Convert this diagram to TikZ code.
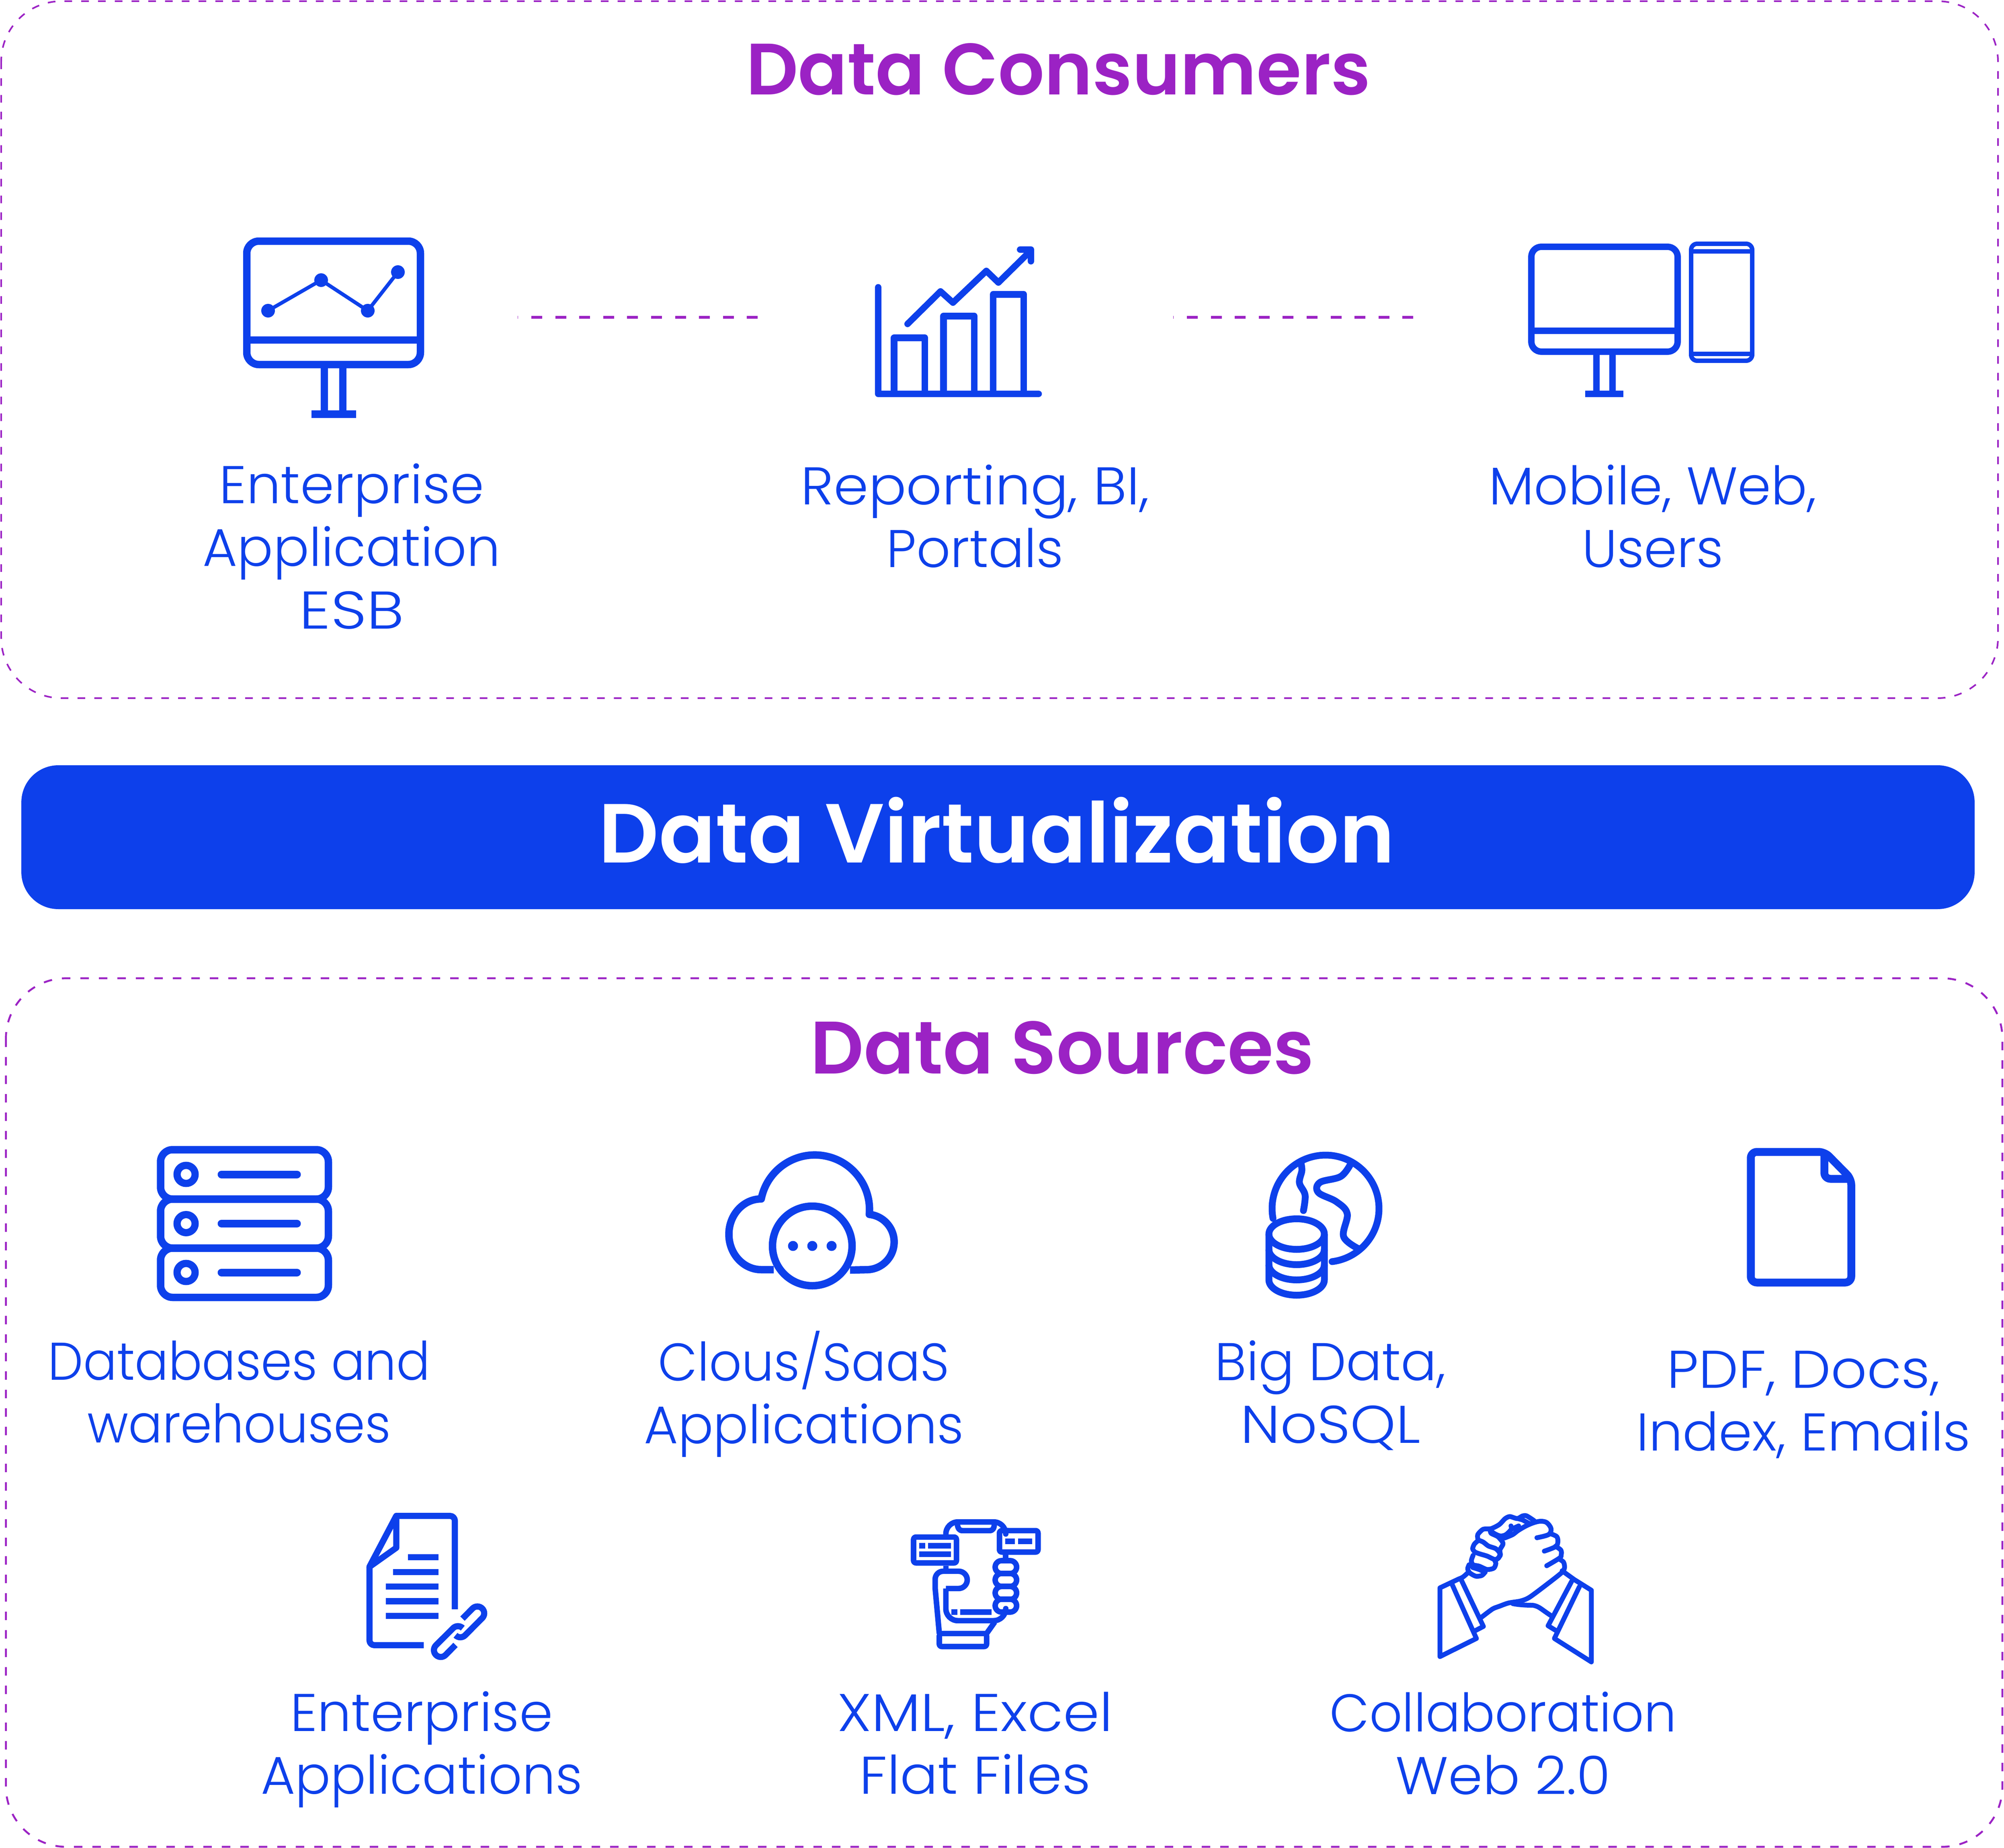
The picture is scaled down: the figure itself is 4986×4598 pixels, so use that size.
\documentclass[tikz,border=0pt]{standalone}
\usepackage{graphicx}
\usepackage{fontspec}
\setmainfont{Poppins Light}[BoldFont=Poppins SemiBold]
\definecolor{iconblue}{HTML}{0D40EB}
\definecolor{grape}{HTML}{9B22C4}
\newcommand{\sx}[2]{\mbox{\rule[-3.2pt]{0pt}{10pt}\scalebox{#1}[1]{#2}}}
\tikzset{
  frameA/.style={draw=grape,line width=0.4pt,dash pattern=on 1.9pt off 2.27pt,rounded corners=15pt},
  frameB/.style={draw=grape,line width=0.47pt,dash pattern=on 2.1pt off 2.5pt,rounded corners=15pt},
  link/.style={draw=grape,line width=0.7pt,dash pattern=on 2.7pt off 3.26pt,dash phase=2.56pt},
  ic/.style={draw=iconblue,line join=round},
  heading/.style={text=grape,anchor=base,font=\bfseries\fontsize{18.1}{21}\selectfont},
  lab/.style={text=iconblue,align=center,inner sep=0pt,font=\fontsize{13.2}{15.6}\selectfont},
}
\begin{document}
\begin{tikzpicture}[x=0.1pt,y=0.1pt,yscale=-1]
\useasboundingbox (0,0) rectangle (4986,4598);
% frames
\draw[frameA] (3,3) rectangle (4971,1737);
\draw[frameB] (14.7,2434) rectangle (4982,4595);
\node[draw=none,fill=iconblue,rounded corners=9.2pt,minimum width=486pt,minimum height=35.8pt,inner sep=0pt,anchor=center] (bar) at (2483,2083) {};
\node[text=white,anchor=base,font=\bfseries\fontsize{20.85}{26}\selectfont] (dv) at (2480,2146) {Data Virtualization};
\node[heading] (cons) at (2633,235) {Data Consumers};
\node[heading,font=\bfseries\fontsize{18.5}{21}\selectfont] (srcs) at (2643,2671) {Data Sources};
% labels
\node[lab] (l1) at (875,1375) {\sx{1.025}{Enterprise}\\\sx{1}{Application}\\\sx{1.18}{ESB}};
\node[lab] (l2) at (2426,1300) {\sx{1.054}{Reporting, BI,}\\\sx{1}{Portals}};
\node[lab] (l3) at (4112,1300) {\sx{1.01}{Mobile, Web,}\\\sx{1}{Users}};
\node[lab] (l4) at (595,3479) {\sx{.94}{Databases and}\\\sx{.95}{warehouses}};
\node[lab] (l5) at (2000,3468) {\sx{.96}{Clous/SaaS}\\\sx{.985}{Applications}};
\node[lab] (l6) at (3310,3479) {\sx{1}{Big Data,}\\\sx{1.09}{NoSQL}};
\node[lab] (l7) at (4487,3501) {\sx{1.06}{PDF, Docs,}\\\sx{1.01}{Index, Emails}};
\node[lab] (l8) at (1049,4353) {\sx{1.015}{Enterprise}\\\sx{.99}{Applications}};
\node[lab] (l9) at (2426,4353) {\sx{1.10}{XML, Excel}\\\sx{1.06}{Flat Files}};
\node[lab] (l10) at (3740,4353) {\sx{.967}{Collaboration}\\\sx{1.04}{Web 2.0}};
% connectors
\coordinate (a1) at (1288,789); \coordinate (a2) at (1885,789);
\coordinate (b1) at (2919,789); \coordinate (b2) at (3516,789);
\draw[link] (a1) -- (a2);
\draw[link] (b1) -- (b2);
% monitor
\draw[ic,line width=1.85pt,rounded corners=3pt] (614,600) rectangle (1046,907);
\draw[ic,line width=1.85pt] (605,846) -- (1055,846);
\draw[ic,line width=1.85pt] (807,907) -- (807,1025) (853,907) -- (853,1025);
\draw[ic,line width=1.9pt] (775,1030) -- (886,1030);
\draw[ic,line width=0.9pt] (667,773) -- (799,697) -- (915,773) -- (990,677);
\fill[iconblue] (667,773) circle[radius=1.7pt] (799,697) circle[radius=1.7pt] (915,773) circle[radius=1.7pt] (990,677) circle[radius=1.7pt];
% chart
\draw[ic,line width=1.65pt,line cap=round] (2185,715) -- (2185,980) -- (2584,980);
\foreach \l/\r/\t in {2224.7/2301/840.5,2347.5/2424/786.5,2471/2547/732.5}{
  \draw[ic,line width=1.65pt] (\l,975) -- (\l,\t) -- (\r,\t) -- (\r,975);
}
\draw[ic,line width=1.6pt,line cap=round] (2258,806) -- (2340,725) -- (2371,753) -- (2454,674) -- (2484,703) -- (2565,623);
\draw[ic,line width=1.6pt,line cap=round] (2538,621) -- (2565,621) -- (2565,650);
% devices
\draw[ic,line width=1.6pt,rounded corners=2.5pt] (3810,614) rectangle (4174,875);
\draw[ic,line width=1.6pt] (3802,823) -- (4182,823);
\draw[ic,line width=1.55pt] (3972,875) -- (3972,975) (4012,875) -- (4012,975);
\draw[ic,line width=1.6pt] (3944,980) -- (4039,980);
\draw[ic,line width=1.1pt,rounded corners=1.5pt] (4207.5,606.5) rectangle (4359.5,897.5);
\draw[ic,line width=1.1pt] (4202,625) -- (4365,625) (4202,880) -- (4365,880);
% databases
\foreach \t/\b in {2860.5/2983.5,2983.5/3105.5,3105.5/3228}{
  \draw[ic,line width=1.85pt,rounded corners=3pt] (399.5,\t) rectangle (817,\b);
}
\foreach \y in {2922,3044.5,3166}{
  \draw[ic,line width=1.8pt] (463,\y) circle[radius=2.25pt];
  \draw[ic,line width=1.9pt,line cap=round] (551,\y) -- (739,\y);
}
% cloud
\draw[ic,line width=1.85pt] (1925,3159) -- (1894,3159)
  arc[start angle=90,end angle=270,x radius=8.05pt,y radius=8.8pt]
  arc[start angle=191.3,end angle=365,radius=13.6pt]
  arc[start angle=276,end angle=450,radius=6.9pt] -- (2115,3160);
\draw[ic,line width=1.85pt,fill=white] (2021,3100) circle[radius=9.9pt];
\fill[iconblue] (1973,3100) circle[radius=1.25pt] (2021,3100) circle[radius=1.25pt] (2069,3100) circle[radius=1.25pt];
% big data
\draw[ic,line width=1.7pt,line cap=round] (3298,3007) ++(169.4:133) arc[start angle=169.4,end angle=443,radius=13.3pt];
\draw[ic,line width=1.7pt,line cap=round] plot[smooth,tension=.6] coordinates {(3237,2895) (3239,2913) (3233,2943) (3247,2973) (3243,3012)};
\draw[ic,line width=1.7pt,line cap=round] plot[smooth,tension=.6] coordinates {(3361,2895) (3336,2927) (3284,2942) (3280,2967) (3325,2990) (3352,3020) (3343,3077) (3382,3108)};
\draw[ic,line width=1.7pt] (3226,3070.5) ellipse[x radius=6.9pt,y radius=3.8pt];
\draw[ic,line width=1.7pt] (3157,3070.5) -- (3157,3184.5) arc[start angle=180,end angle=0,x radius=6.9pt,y radius=3.8pt] -- (3295,3070.5);
\foreach \y in {3108.5,3146.5}{
  \draw[ic,line width=1.7pt] (3157,\y) arc[start angle=180,end angle=0,x radius=6.9pt,y radius=3.8pt];
}
% pdf
\draw[ic,line width=1.95pt,rounded corners=1.5pt] (4540,2866) -- (4356,2866) -- (4356,3191) -- (4606,3191) -- (4606,2933) -- cycle;
\draw[ic,line width=1.95pt,rounded corners=1.5pt] (4539,2866) -- (4539,2933) -- (4606,2933);
% enterprise apps
\begin{scope}[shift={(850,3720)},scale=1/3]
\draw[ic,line width=1.53pt,rounded corners=1.2pt] (613,1120) -- (208,1120) -- (208,535);
\draw[ic,line width=1.53pt] (208,535) -- (408,155);
\draw[ic,line width=1.53pt,rounded corners=1.2pt] (408,155) -- (845,155) -- (845,852);
\draw[ic,line width=1.53pt] (408,155) -- (408,393) -- (208,535) -- cycle;
\foreach \x/\y in {495/464,385/574,330/683,330/792,330/902}{
  \draw[ic,line width=1.53pt] (\x,\y) -- (723,\y);
}
\draw[ic,line width=1.53pt] (902,922) -- (977,846) arc[start angle=225,end angle=405,radius=5.1pt] -- (922,1046) arc[start angle=45,end angle=135,radius=5.1pt];
\draw[ic,line width=1.53pt] (850,1118) -- (776,1193) arc[start angle=45,end angle=225,radius=5.1pt] -- (832,993) arc[start angle=225,end angle=315,radius=5.1pt];
\end{scope}
% xml
\begin{scope}[shift={(2230,3750)},scale=1/3]
\draw[ic,line width=1.37pt,rounded corners=3pt] (370,205) -- (370,110) -- (817,110) -- (817,155);
\draw[ic,line width=1.37pt] (455,125) .. controls (460,160) and (470,175) .. (495,175) -- (695,175) .. controls (720,175) and (730,160) .. (732,125);
\draw[ic,line width=1.37pt] (370,437) -- (370,478) (817,355) -- (817,399);
\draw[ic,line width=1.37pt,rounded corners=3pt] (817,785) -- (817,847) -- (370,847) -- (370,607);
\draw[ic,line width=1.37pt] (370,607) -- (465,607) arc[start angle=90,end angle=-90,radius=6.45pt] -- (350,478) arc[start angle=270,end angle=180,radius=6pt] -- (290,605) -- (321,943);
\draw[ic,line width=1.37pt] (674,943) -- (735,857);
\draw[ic,line width=1.37pt,rounded corners=.6pt] (321,943) rectangle (674,1040);
\draw[ic,line width=1.37pt,rounded corners=.6pt] (129,223) rectangle (449,416);
\draw[ic,line width=1.37pt,rounded corners=.6pt] (770,175) rectangle (1058,335);
\foreach \a/\b/\y in {172/215/287,237/407/287,172/407/351,813/886/255,908/1015/255,412/455/783,477/710/783}{
  \draw[ic,line width=1.4pt] (\a,\y) -- (\b,\y);
}
\foreach \y in {447,543,640,735}{
  \draw[ic,line width=1.37pt] (786,\y-48) -- (850,\y-48) arc[start angle=-90,end angle=90,radius=4.8pt] -- (786,\y+48) arc[start angle=90,end angle=270,radius=4.8pt] -- cycle;
}
\end{scope}
% handshake
\begin{scope}[shift={(3540,3740)},scale=1/3]
\tikzset{hs/.style={ic,line width=1.2pt,line cap=round}}
\draw[hs] (335,520) .. controls (300,555) and (290,558) .. (270,565) -- (128,632) -- (128,1145) -- (400,1010) -- (218,605);
\draw[hs] (288,575) -- (452,920) -- (385,955);
\draw[hs] (1040,505) -- (1130,570) -- (1258,650) -- (1258,1185) -- (982,1010) -- (1168,625);
\draw[hs] (1110,585) -- (935,915) -- (1000,955);
\draw[hs] (672,750) .. controls (720,760) and (780,762) .. (820,762) .. controls (870,770) and (880,790) .. (965,845);
\draw[hs] plot[smooth,tension=.55] coordinates {(852,258) (940,234) (957,190) (925,145) (880,135) (830,145) (770,170) (710,205) (670,235) (610,260)};
\draw[hs] plot[smooth,tension=.55] coordinates {(958,230) (1000,250) (1008,290) (990,325) (907,358)};
\draw[hs] plot[smooth,tension=.55] coordinates {(990,322) (1030,350) (1033,385) (1020,410) (925,467)};
\draw[hs] plot[smooth,tension=.45] coordinates {(1015,415) (1050,440) (1058,480) (1040,515) (960,580) (800,700) (730,730) (640,745) (570,770) (520,790) (440,850)};
\draw[hs] plot[smooth,tension=.45] coordinates {(830,130) (775,95) (745,95) (705,115) (650,100) (615,115) (570,160) (510,190) (450,195) (410,235) (412,275)};
\draw[hs] plot[smooth,tension=.45] coordinates {(412,275) (450,290) (490,320) (545,340) (575,375) (565,410) (535,420) (480,395) (430,380) (390,365) (372,340) (385,305) (412,280)};
\draw[hs] plot[smooth,tension=.45] coordinates {(375,390) (362,430) (375,460) (420,470) (480,495) (530,485) (545,450) (535,425)};
\draw[hs] plot[smooth,tension=.45] coordinates {(345,460) (335,490) (350,520) (395,545) (440,540) (465,515)};
\draw[hs] plot[smooth,tension=.45] coordinates {(503,200) (510,225) (560,250) (595,290) (597,310) (575,350) (578,390) (545,425)};
\draw[hs] plot[smooth,tension=.5] coordinates {(658,170) (660,195) (620,235) (580,245) (540,230) (503,205)};
\draw[hs] (660,195) -- (715,170);
\draw[hs] (710,115) -- (745,125) -- (800,155);
\draw[hs] (372,480) -- (420,495) -- (465,515);
\end{scope}
\end{tikzpicture}
\end{document}
